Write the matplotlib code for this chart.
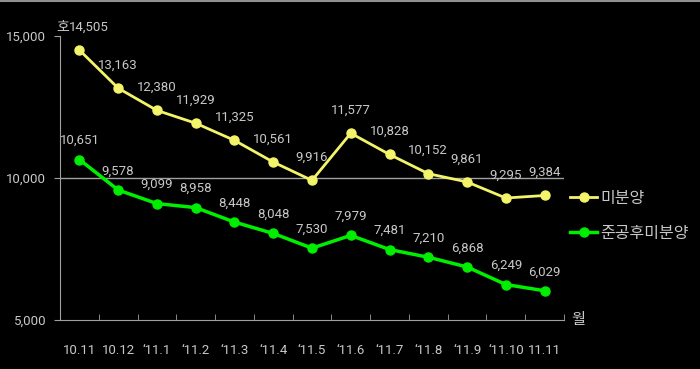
import matplotlib
matplotlib.use("Agg")
import matplotlib.pyplot as plt
from matplotlib.ticker import FixedLocator

plt.rcParams['font.family'] = ['Roboto', 'Noto Sans CJK KR', 'DejaVu Sans']

# --------------------------------------------------
# Data
# --------------------------------------------------
months = ["10.11", "10.12", "\u201811.1", "\u201811.2", "\u201811.3", "\u201811.4", "\u201811.5",
          "\u201811.6", "\u201811.7", "\u201811.8", "\u201811.9", "\u201811.10", "11.11"]
unsold = [14505, 13163, 12380, 11929, 11325, 10561, 9916, 11577, 10828, 10152, 9861, 9295, 9384]
unsold_done = [10651, 9578, 9099, 8958, 8448, 8048, 7530, 7979, 7481, 7210, 6868, 6249, 6029]

TEXT = "#c8c8c8"
AXIS = "#a0a0a0"
YELLOW = "#f4f46a"
GREEN = "#00ee00"

fig = plt.figure(figsize=(7, 3.69), dpi=100, facecolor="black")
ax = fig.add_axes([60 / 700, 1 - 320 / 369, 504 / 700, 284 / 369])
ax.set_facecolor("black")

x = list(range(len(months)))
ax.axhline(10000, color=AXIS, lw=1, zorder=1)
ax.plot(x, unsold, color=YELLOW, lw=2, marker="o", ms=6.5, label="미분양", zorder=3)
ax.plot(x, unsold_done, color=GREEN, lw=2.5, marker="o", ms=6.5, label="준공후미분양", zorder=3)

for i, (xi, v) in enumerate(zip(x, unsold)):
    dx = 7 if i == 0 else 0
    ax.annotate(f"{v:,}", (xi, v), xytext=(dx, 12), textcoords="offset points",
                ha="center", va="bottom", color=TEXT, fontsize=9.5)
for xi, v in zip(x, unsold_done):
    ax.annotate(f"{v:,}", (xi, v), xytext=(0, 9), textcoords="offset points",
                ha="center", va="bottom", color=TEXT, fontsize=9.5)

ax.set_xlim(-0.5, 12.5)
ax.set_ylim(5000, 15000)
ax.set_xticks(x)
ax.set_xticklabels(months)
ax.xaxis.set_minor_locator(FixedLocator([i - 0.5 for i in range(14)]))
ax.tick_params(axis="x", which="major", length=0, pad=17, colors=TEXT, labelsize=9.5)
ax.tick_params(axis="x", which="minor", direction="in", length=4, color=AXIS)
ax.set_yticks([5000, 10000, 15000])
ax.set_yticklabels(["5,000", "10,000", "15,000"])
ax.tick_params(axis="y", length=4, color=AXIS, colors=TEXT, labelsize=9.5, pad=6)

for side in ["top", "right"]:
    ax.spines[side].set_visible(False)
for side in ["left", "bottom"]:
    ax.spines[side].set_color(AXIS)

ax.text(-0.008, 1.01, "호", transform=ax.transAxes, color=TEXT, fontsize=10,
        ha="left", va="bottom", zorder=5)
ax.text(1.015, 0.0, "월", transform=ax.transAxes, color=TEXT, fontsize=11,
        ha="left", va="center")

leg = ax.legend(loc="upper left", bbox_to_anchor=(0.99, 0.495), frameon=False,
                fontsize=11.5, labelcolor=TEXT, handlelength=1.7, handletextpad=0.2,
                labelspacing=1.25, borderaxespad=0.3)

fig.add_artist(plt.Line2D([0, 1], [0.997, 0.997], color="#909090", lw=1.5))

fig.savefig("out.png", dpi=100, facecolor="black")
